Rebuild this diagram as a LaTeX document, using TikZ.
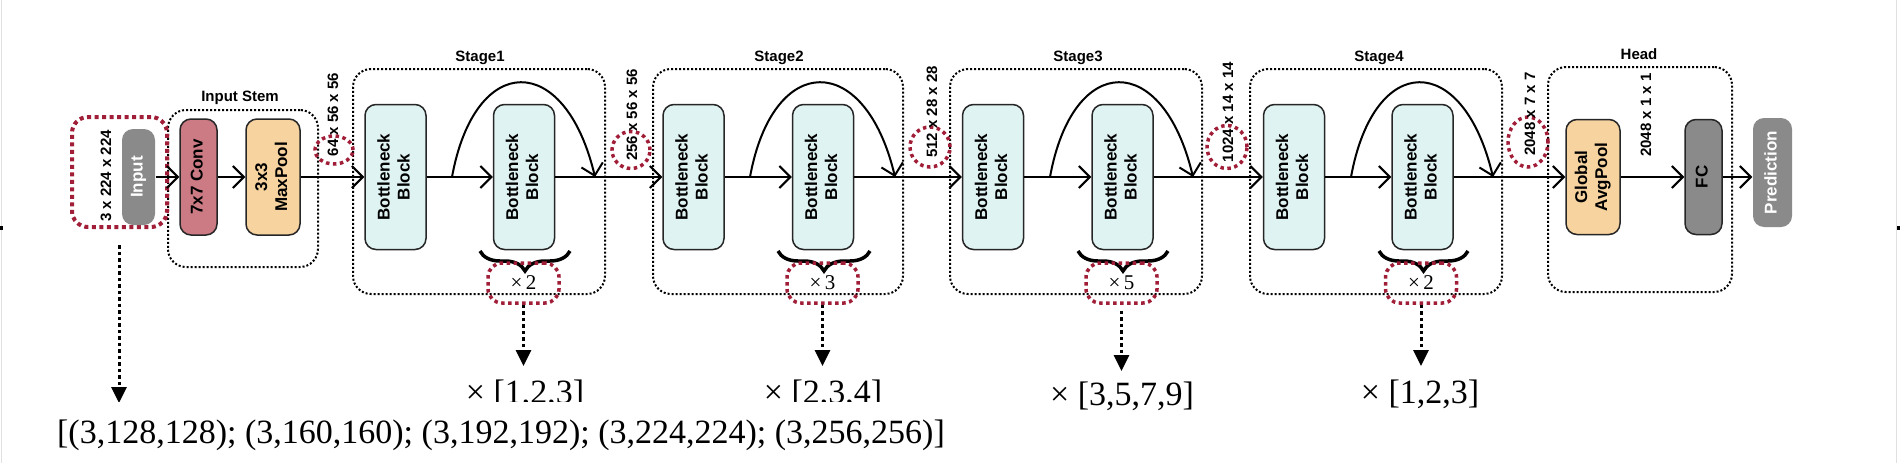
\documentclass[tikz,border=0pt]{standalone}
\usepackage{fontspec}
\setmainfont{Liberation Serif}
\newfontfamily\arialf{Liberation Sans}
\usetikzlibrary{arrows.meta,decorations.pathreplacing,shapes.geometric}
\definecolor{redd}{RGB}{160,30,55}
\definecolor{bncol}{RGB}{224,243,243}
\definecolor{convcol}{RGB}{204,122,132}
\definecolor{poolcol}{RGB}{246,211,159}
\definecolor{graycol}{RGB}{138,138,138}
\newcommand{\vtxt}[1]{\rotatebox{90}{\begin{tabular}{@{}c@{}}#1\end{tabular}}}
\begin{document}
\begin{tikzpicture}[x=1pt,y=-1pt,
  blk/.style={draw=black!85, line width=1.5pt, rounded corners=11pt, inner sep=0pt,
    font=\arialf\bfseries\fontsize{17}{20}\selectfont},
  bneck/.style={blk, fill=bncol, minimum width=61pt, minimum height=145pt},
  stagebox/.style={draw=black, line width=2pt, dash pattern=on 2pt off 2pt, rounded corners=18pt, inner sep=0pt},
  redbox/.style={draw=redd, line width=4pt, dash pattern=on 4pt off 3.5pt, rounded corners=16pt, inner sep=0pt},
  redell/.style={draw=redd, line width=3.5pt, dash pattern=on 3.5pt off 3.5pt, ellipse, inner sep=0pt},
  timesbox/.style={draw=redd, line width=3.5pt, dash pattern=on 3.5pt off 3.5pt, rounded corners=14pt, inner sep=0pt,
    minimum width=71pt, minimum height=40pt, font=\fontsize{21}{24}\selectfont},
  lbl/.style={font=\arialf\bfseries\fontsize{15}{18}\selectfont, rotate=90, inner sep=0pt},
  ttl/.style={font=\arialf\bfseries\fontsize{15}{18}\selectfont, inner sep=0pt, anchor=base},
  arr/.style={line width=2pt, -{Straight Barb[length=11pt,width=22pt]}},
  darr/.style={line width=3pt, dash pattern=on 3.5pt off 3pt, -{Triangle[length=16pt,width=15pt]}},
  brc/.style={line width=3.5pt, decorate, decoration={brace, amplitude=20pt}},
  big/.style={font=\fontsize{34}{40}\selectfont, inner sep=0pt, anchor=base}
]
\useasboundingbox (0,0) rectangle (1900,463);
% page edge marks
\draw[black!12, line width=1pt] (1.5,0) -- (1.5,463);
\draw[black!12, line width=1pt] (1896.5,0) -- (1896.5,463);
\fill[black] (0,226) rectangle (2.5,230);
\fill[black] (1896.5,226) rectangle (1900,230);

% stage boxes
\node[stagebox, minimum width=150pt, minimum height=157pt] (stem) at (243,188.5) {};
\node[stagebox, minimum width=252pt, minimum height=225pt] (st1) at (479,181.5) {};
\node[stagebox, minimum width=250pt, minimum height=225pt] (st2) at (778,181.5) {};
\node[stagebox, minimum width=252pt, minimum height=225pt] (st3) at (1076,181.5) {};
\node[stagebox, minimum width=252pt, minimum height=225pt] (st4) at (1376,181.5) {};
\node[stagebox, minimum width=184pt, minimum height=225pt] (head) at (1640,179.5) {};

\node[ttl] (tstem) at (240,101) {Input Stem};
\node[ttl] (t1) at (480,61) {Stage1};
\node[ttl] (t2) at (779,61) {Stage2};
\node[ttl] (t3) at (1078,61) {Stage3};
\node[ttl] (t4) at (1379,61) {Stage4};
\node[ttl] (th) at (1639,59) {Head};

% red highlight shapes
\node[redbox, minimum width=95pt, minimum height=110pt] (inbox) at (119.5,172) {};
\node[redell, minimum width=38pt, minimum height=28pt] (c64) at (334,150) {};
\node[redell, minimum width=38pt, minimum height=37pt] (c256) at (631,150) {};
\node[redell, minimum width=40pt, minimum height=40pt] (c512) at (930,147) {};
\node[redell, minimum width=40pt, minimum height=43pt] (c1024) at (1227,147) {};
\node[redell, minimum width=40pt, minimum height=50pt] (c2048) at (1528,142) {};

% blocks
\node[blk, fill=graycol, draw=none, text=white, minimum width=33pt, minimum height=96pt] (in) at (138.5,177) {\vtxt{Input}};
\node[blk, fill=convcol, minimum width=37pt, minimum height=116pt] (conv) at (198.5,177) {\vtxt{7x7 Conv}};
\node[blk, fill=poolcol, minimum width=54pt, minimum height=116pt] (pool) at (273,177) {\vtxt{3x3\\MaxPool}};

\node[bneck] (a1) at (395.5,177) {\vtxt{Bottleneck\\Block}};
\node[bneck] (b1) at (524,177) {\vtxt{Bottleneck\\Block}};
\node[bneck] (a2) at (693.5,177) {\vtxt{Bottleneck\\Block}};
\node[bneck] (b2) at (823,177) {\vtxt{Bottleneck\\Block}};
\node[bneck] (a3) at (993,177) {\vtxt{Bottleneck\\Block}};
\node[bneck] (b3) at (1122.5,177) {\vtxt{Bottleneck\\Block}};
\node[bneck] (a4) at (1294,177) {\vtxt{Bottleneck\\Block}};
\node[bneck] (b4) at (1422.5,177) {\vtxt{Bottleneck\\Block}};

\node[blk, fill=poolcol, minimum width=54pt, minimum height=115pt] (gap) at (1593,177) {\vtxt{Global\\AvgPool}};
\node[blk, fill=graycol, minimum width=37pt, minimum height=115pt] (fc) at (1703.5,177) {\vtxt{FC}};
\node[blk, fill=graycol, draw=none, text=white, minimum width=39pt, minimum height=109pt] (pred) at (1772.5,172.5) {\vtxt{Prediction}};

% main arrows
\draw[arr] (in) -- (conv);
\draw[arr] (conv) -- (pool);
\draw[arr] (pool) -- (a1);
\draw[arr] (a1) -- (b1);
\draw[arr] (b1) -- (a2);
\draw[arr] (a2) -- (b2);
\draw[arr] (b2) -- (a3);
\draw[arr] (a3) -- (b3);
\draw[arr] (b3) -- (a4);
\draw[arr] (a4) -- (b4);
\draw[arr] (b4) -- (gap);
\draw[arr] (gap) -- (fc);
\draw[arr] (fc.east) -- (fc.east -| pred.west);

% skip arcs
\coordinate (s1) at (452,177); \coordinate (e1) at (595,177);
\coordinate (s2) at (750,177); \coordinate (e2) at (895,177);
\coordinate (s3) at (1050,177); \coordinate (e3) at (1193,177);
\coordinate (s4) at (1351,177); \coordinate (e4) at (1493,177);
\draw[arr] (s1) .. controls (475,51) and (565,51) .. (e1);
\draw[arr] (s2) .. controls (773,51) and (865,51) .. (e2);
\draw[arr] (s3) .. controls (1073,51) and (1163,51) .. (e3);
\draw[arr] (s4) .. controls (1374,51) and (1463,51) .. (e4);

% size labels
\node[lbl] (l0) at (106,176) {3 x 224 x 224};
\node[lbl] (l1) at (333,114.5) {64 x 56 x 56};
\node[lbl] (l2) at (632,115) {256 x 56 x 56};
\node[lbl] (l3) at (932,112) {512 x 28 x 28};
\node[lbl] (l4) at (1228,112) {1024 x 14 x 14};
\node[lbl] (l5) at (1530,114) {2048 x 7 x 7};
\node[lbl] (l6) at (1646,115) {2048 x 1 x 1};

% braces
\draw[brc] (570,251) -- (480,251);
\draw[brc] (870,251) -- (778,251);
\draw[brc] (1168,251) -- (1078,251);
\draw[brc] (1468,251) -- (1379,251);

% repeat counts
\node[timesbox] (r1) at (523.5,283) {×\,2};
\node[timesbox] (r2) at (822.5,283) {×\,3};
\node[timesbox] (r3) at (1121.5,283) {×\,5};
\node[timesbox] (r4) at (1421,283) {×\,2};

% dotted arrows
\coordinate (d0) at (119,403);
\coordinate (d1) at (523.5,366);
\coordinate (d2) at (822.5,366);
\coordinate (d3) at (1121.5,371);
\coordinate (d4) at (1421,366);
\coordinate (s0) at (119,245);
\draw[darr] (s0) -- (d0);
\draw[darr] (r1.south) -- (d1);
\draw[darr] (r2.south) -- (d2);
\draw[darr] ([yshift=-6pt]r3.south) -- (d3);
\draw[darr] (r4.south) -- (d4);

% bottom labels
\node[big] (m1) at (525,403) {× [1,2,3]};
\node[big] (m2) at (823,403) {× [2,3,4]};
\node[big] (m3) at (1122,405) {× [3,5,7,9]};
\node[big] (m4) at (1420,403) {× [1,2,3]};
\fill[white] (40,401.5) rectangle (965,463);
\node[big] (res) at (501,443) {[(3,128,128); (3,160,160); (3,192,192); (3,224,224); (3,256,256)]};
\end{tikzpicture}
\end{document}
